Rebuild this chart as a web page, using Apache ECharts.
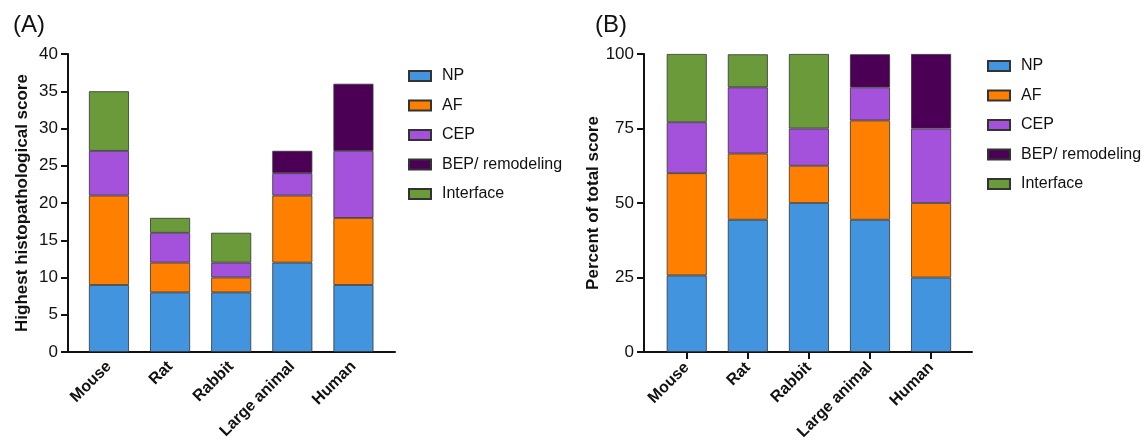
<!DOCTYPE html>
<html>
<head>
<meta charset="utf-8">
<script src="https://cdn.jsdelivr.net/npm/echarts@6/dist/echarts.min.js"></script>
<style>html,body{margin:0;padding:0;background:#fff}#c{width:1145px;height:445px}</style>
</head>
<body>
<div id="c"></div>
<script>
var categories = ['Mouse', 'Rat', 'Rabbit', 'Large animal', 'Human'];
var seriesNames = ['NP', 'AF', 'CEP', 'BEP/ remodeling', 'Interface'];
var scoreNP = [9, 8, 8, 12, 9];
var scoreAF = [12, 4, 2, 9, 9];
var scoreCEP = [6, 4, 2, 3, 9];
var scoreBEP = [0, 0, 0, 3, 9];
var scoreInterface = [8, 2, 4, 0, 0];
var pctNP = [25.7, 44.4, 50, 44.4, 25];
var pctAF = [34.3, 22.2, 12.5, 33.3, 25];
var pctCEP = [17.1, 22.2, 12.5, 11.1, 25];
var pctBEP = [0, 0, 0, 11.1, 25];
var pctInterface = [22.9, 11.1, 25, 0, 0];
var scoreTicks = [0, 5, 10, 15, 20, 25, 30, 35, 40];
var pctTicks = [0, 25, 50, 75, 100];
var colors = ['#4394DE', '#FF8000', '#A452DB', '#4B0055', '#6A9A3A'];

var scoreSets = [scoreNP, scoreAF, scoreCEP, scoreBEP, scoreInterface];
var pctSets = [pctNP, pctAF, pctCEP, pctBEP, pctInterface];
var positions = categories.map(function (c, i) { return i + 1; });

// rows: [value, position]; value dimension first so it is the stacked one
function toRows(arr) {
  return arr.map(function (v, i) { return [v === 0 ? '-' : v, positions[i]]; });
}

var font = 'Liberation Sans, Arial, sans-serif';
var series = [];
function addSeries(sets, xi, stackId) {
  seriesNames.forEach(function (n, k) {
    series.push({
      name: n, type: 'bar', xAxisIndex: xi, yAxisIndex: xi, stack: stackId,
      barWidth: 40, dimensions: ['val', 'pos'], encode: { x: 'pos', y: 'val' },
      data: toRows(sets[k]),
      itemStyle: { color: colors[k], borderColor: '#333', borderWidth: 0.8 },
      emphasis: { disabled: true }
    });
  });
}
addSeries(scoreSets, 0, 'a');
addSeries(pctSets, 1, 'b');

function xAxisCfg(idx, min, max, showTick) {
  return {
    type: 'value', gridIndex: idx, min: min, max: max,
    splitLine: { show: false },
    axisLine: { show: true, onZero: false, lineStyle: { color: '#111', width: 2 } },
    axisTick: { show: showTick, customValues: positions, length: 7, lineStyle: { color: '#111', width: 2 } },
    axisLabel: {
      customValues: positions, rotate: 45, margin: showTick ? 13 : 12,
      fontFamily: font, fontSize: 16, fontWeight: 'bold', color: '#111',
      formatter: function (v) { return categories[Math.round(v) - 1] || ''; }
    }
  };
}
function yAxisCfg(idx, max, interval, name, gap) {
  return {
    type: 'value', gridIndex: idx, min: 0, max: max, interval: interval,
    name: name, nameLocation: 'middle', nameGap: gap,
    nameTextStyle: { fontFamily: font, fontSize: 17, fontWeight: 'bold', color: '#111' },
    splitLine: { show: false },
    axisLine: { show: true, lineStyle: { color: '#111', width: 2 } },
    axisTick: { show: true, length: 7, lineStyle: { color: '#111', width: 2 } },
    axisLabel: { fontFamily: font, fontSize: 17, color: '#111', margin: 10 }
  };
}

var legendBase = {
  orient: 'vertical', icon: 'rect', itemWidth: 22, itemHeight: 10, itemGap: 13.5,
  selectedMode: false,
  textStyle: { fontFamily: font, fontSize: 16, color: '#111', lineHeight: 16, padding: [0, 0, 0, 6] },
  data: seriesNames
};

var chart = echarts.init(document.getElementById('c'));
chart.setOption({
  animation: false,
  title: [
    { text: '(A)', left: 8, top: 8, textStyle: { fontFamily: font, fontSize: 24, fontWeight: 'normal', color: '#111' } },
    { text: '(B)', left: 590, top: 8, textStyle: { fontFamily: font, fontSize: 24, fontWeight: 'normal', color: '#111' } }
  ],
  legend: [
    Object.assign({}, legendBase, { left: 403, top: 63 }),
    Object.assign({}, legendBase, { left: 982, top: 53 })
  ],
  grid: [
    { left: 68, right: 750, top: 54, bottom: 93 },
    { left: 644, right: 173, top: 54, bottom: 93 }
  ],
  xAxis: [xAxisCfg(0, 0.33, 5.68, false), xAxisCfg(1, 0.3, 5.67, true)],
  yAxis: [
    yAxisCfg(0, 40, 5, 'Highest histopathological score', 37),
    yAxisCfg(1, 100, 25, 'Percent of total score', 37.5)
  ],
  series: series
});
</script>
</body>
</html>
